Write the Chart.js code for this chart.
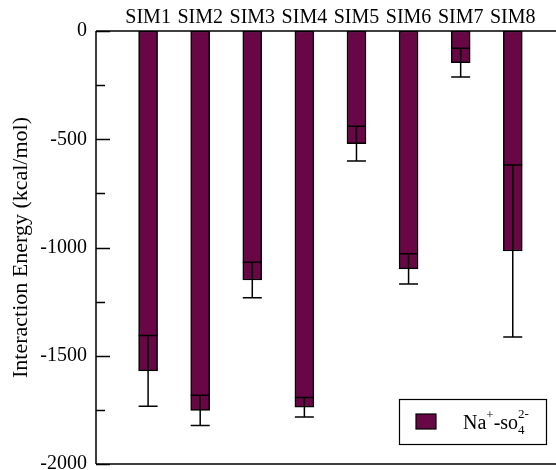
<!DOCTYPE html>
<html>
<head>
<meta charset="utf-8">
<script src="https://cdn.jsdelivr.net/npm/chart.js@4.4.0/dist/chart.umd.min.js"></script>
<style>
  html, body { margin: 0; padding: 0; background: #fff; overflow: hidden; }
  #wrap { width: 556px; height: 470px; }
</style>
</head>
<body>
<div id="wrap"><canvas id="chart" width="556" height="470"></canvas></div>
<script>
const categories = ['SIM1', 'SIM2', 'SIM3', 'SIM4', 'SIM5', 'SIM6', 'SIM7', 'SIM8'];
const energies = [-1570, -1752, -1150, -1738, -520, -1099, -146, -1016];
const errors = [163, 70, 82, 45, 80, 70, 66, 397];
const yTicks = [0, -500, -1000, -1500, -2000];
const seriesName = 'Na+-so42-';

const barColor = '#680646';
const font = 'Liberation Serif, Times New Roman, serif';

// error bars, drawn on top of the bars
const errorBars = {
  id: 'errorBars',
  afterDatasetsDraw(chart) {
    const c = chart.ctx, xs = chart.scales.x, ys = chart.scales.y;
    c.save();
    c.strokeStyle = '#000';
    c.lineWidth = 1.5;
    energies.forEach((v, i) => {
      const x = xs.getPixelForValue(i + 1);
      const yTop = ys.getPixelForValue(v + errors[i]);
      const yBot = ys.getPixelForValue(v - errors[i]);
      c.beginPath();
      c.moveTo(x, yTop); c.lineTo(x, yBot);
      c.moveTo(x - 9.5, yTop); c.lineTo(x + 9.5, yTop);
      c.moveTo(x - 9.5, yBot); c.lineTo(x + 9.5, yBot);
      c.stroke();
    });
    c.restore();
  }
};

// inward tick marks on the y axis + frame lines + legend
const frame = {
  id: 'frame',
  afterDraw(chart) {
    const c = chart.ctx, a = chart.chartArea, ys = chart.scales.y;
    c.save();
    c.strokeStyle = '#000';
    c.lineWidth = 1.5;
    c.beginPath();
    for (let v = 0; v >= -2000; v -= 250) {
      const y = Math.round(ys.getPixelForValue(v)) + 0.5;
      const len = (v % 500 === 0) ? 14 : 9;
      c.moveTo(a.left, y); c.lineTo(a.left + len, y);
    }
    c.moveTo(a.left, a.top); c.lineTo(a.right, a.top);
    c.moveTo(a.left, a.bottom); c.lineTo(a.right, a.bottom);
    c.moveTo(a.left, a.top); c.lineTo(a.left, a.bottom);
    c.stroke();

    // legend box
    c.lineWidth = 1.2;
    c.strokeRect(399.5, 399.5, 147, 45);
    c.fillStyle = barColor;
    c.fillRect(416, 414, 20, 15);
    c.strokeRect(416, 414, 20, 15);
    c.fillStyle = '#000';
    c.textBaseline = 'alphabetic';
    c.font = '20px ' + font;
    let x = 463;
    const base = 429;
    c.fillText('Na', x, base); x += c.measureText('Na').width;
    c.font = '13px ' + font;
    c.fillText('+', x, base - 10); x += c.measureText('+').width;
    c.font = '20px ' + font;
    c.fillText('-so', x, base); x += c.measureText('-so').width;
    c.font = '13px ' + font;
    c.fillText('4', x, base + 5);
    c.fillText('2-', x, base - 11);
    c.restore();
  }
};

new Chart(document.getElementById('chart'), {
  type: 'bar',
  data: {
    datasets: [{
      label: seriesName,
      data: energies.map((v, i) => ({ x: i + 1, y: v })),
      backgroundColor: barColor,
      borderColor: '#000',
      borderWidth: 1.5,
      borderSkipped: false,
      barThickness: 19
    }]
  },
  options: {
    responsive: false,
    animation: false,
    layout: { padding: { left: 0, right: 0, top: 0, bottom: 6 } },
    plugins: { legend: { display: false }, tooltip: { enabled: false } },
    scales: {
      x: {
        type: 'linear',
        position: 'top',
        offset: false,
        min: 0,
        max: 8.83,
        grid: { display: false, drawTicks: false },
        border: { display: false },
        afterBuildTicks: s => { s.ticks = categories.map((_, i) => ({ value: i + 1 })); },
        ticks: {
          autoSkip: false,
          maxRotation: 0,
          padding: 1,
          color: '#000',
          font: { family: font, size: 20 },
          callback: v => categories[v - 1] || ''
        },
        afterFit: s => { s.height = 31; s.paddingLeft = 0; s.paddingRight = 0; }
      },
      y: {
        min: -2000,
        max: 0,
        grid: { display: false, drawTicks: false },
        border: { display: false },
        afterBuildTicks: s => { s.ticks = yTicks.map(v => ({ value: v })); },
        ticks: {
          padding: 9,
          color: '#000',
          font: { family: font, size: 20 },
          callback: v => String(v)
        },
        title: {
          display: true,
          text: 'Interaction Energy (kcal/mol)',
          color: '#000',
          font: { family: font, size: 22 },
          padding: { top: 8, bottom: 0 }
        },
        afterFit: s => { s.width = 96; s.paddingTop = 0; s.paddingBottom = 0; }
      }
    }
  },
  plugins: [errorBars, frame]
});
</script>
</body>
</html>
